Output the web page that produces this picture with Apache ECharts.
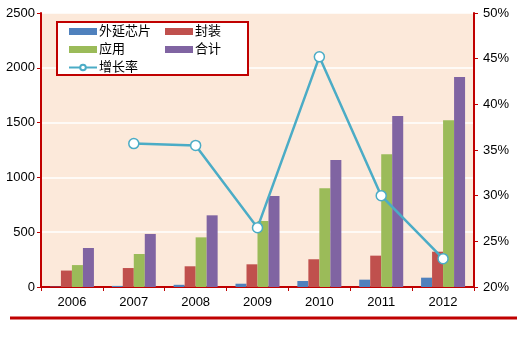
<!DOCTYPE html>
<html><head><meta charset="utf-8">
<script src="https://cdn.jsdelivr.net/npm/echarts@6/dist/echarts.min.js"></script>
<style>html,body{margin:0;padding:0;background:#fff}#c{width:517px;height:347px}</style>
</head><body><div id="c"></div>
<script>
const years = ['2006','2007','2008','2009','2010','2011','2012'];
const epitaxy = [3, 10, 20, 30, 55, 67, 85];
const packaging = [150, 173, 189, 207, 253, 286, 322];
const application = [200, 301, 453, 602, 900, 1211, 1521];
const total = [356, 484, 654, 830, 1159, 1560, 1917];
const growth = [null, 35.7, 35.5, 26.5, 45.2, 30.0, 23.1];

const RED = '#C00000';
const font = '"Liberation Sans", "Noto Sans CJK SC", sans-serif';
const chart = echarts.init(document.getElementById('c'));
const barS = (name, data, color) => ({
  name, type: 'bar', data, barWidth: 11, barGap: '0%',
  itemStyle: { color }, yAxisIndex: 0
});
const legText = { fontSize: 13, color: '#000', fontFamily: font, padding: [0, 0, 0, -3] };
chart.setOption({
  animation: false,
  textStyle: { fontFamily: font },
  grid: { left: 41, right: 43, top: 13, bottom: 60, show: true, backgroundColor: '#FCE9DA', borderWidth: 0 },
  graphic: [
    { type: 'rect', shape: { x: 57, y: 22, width: 191, height: 53 }, style: { fill: '#fff', stroke: RED, lineWidth: 2 }, z: 3 },
    { type: 'line', shape: { x1: 10, y1: 318, x2: 517, y2: 318 }, style: { stroke: RED, lineWidth: 3 }, z: 3 }
  ],
  legend: [
    { data: [{ name: '外延芯片', icon: 'rect' }, { name: '应用', icon: 'rect' }, '增长率'], orient: 'vertical', left: 68, top: 25, padding: 0, itemWidth: 28, itemHeight: 7, itemGap: 5,
      textStyle: legText, z: 5 },
    { data: [{ name: '封装', icon: 'rect' }, { name: '合计', icon: 'rect' }], orient: 'vertical', left: 165, top: 25, padding: 0, itemWidth: 28, itemHeight: 7, itemGap: 5,
      textStyle: legText, z: 5 }
  ],
  xAxis: {
    type: 'category', data: years, boundaryGap: true,
    axisLine: { lineStyle: { color: RED, width: 2 } },
    axisTick: { show: true, lineStyle: { color: RED } , length: 4},
    axisLabel: { color: '#000', fontSize: 13, margin: 9 }
  },
  yAxis: [
    { type: 'value', min: 0, max: 2500, interval: 500,
      axisLine: { show: true, lineStyle: { color: RED, width: 2 } },
      axisTick: { show: true, length: 4, lineStyle: { color: RED } },
      axisLabel: { color: '#000', fontSize: 13, margin: 6, formatter: v => String(v) },
      splitLine: { lineStyle: { color: '#fff', width: 1.5 } } },
    { type: 'value', min: 20, max: 50, interval: 5, position: 'right',
      axisLine: { show: true, lineStyle: { color: RED, width: 2 } },
      axisTick: { show: true, length: 4, lineStyle: { color: RED } },
      axisLabel: { color: '#000', fontSize: 13, margin: 9, formatter: '{value}%' },
      splitLine: { show: false } }
  ],
  series: [
    barS('外延芯片', epitaxy, '#4F81BD'),
    barS('封装', packaging, '#C0504D'),
    barS('应用', application, '#9BBB59'),
    barS('合计', total, '#8064A2'),
    { name: '增长率', type: 'line', yAxisIndex: 1, data: growth, symbol: 'circle', symbolSize: 10,
      lineStyle: { color: '#4BACC6', width: 2.5 },
      itemStyle: { color: '#fff', borderColor: '#4BACC6', borderWidth: 1.5 },
      z: 4 }
  ]
});
</script></body></html>
